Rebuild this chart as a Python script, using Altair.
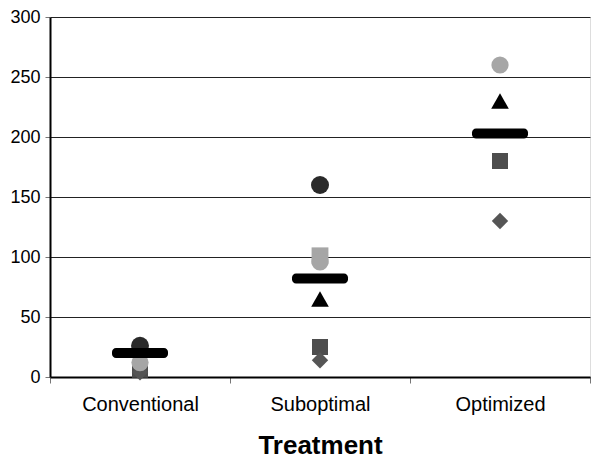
import altair as alt
import pandas as pd

groups = ["Conventional", "Suboptimal", "Optimized"]

series = ["dark square", "diamond", "light square", "light circle", "triangle", "dark circle"]
dark_square = [6, 25, 180]
diamond = [4, 14, 130]
light_square = [None, 101, None]
light_circle = [12, 96, 260]
triangle = [None, 65, 230]
dark_circle = [26, 160, None]
means = [20, 82, 203]

values = [dark_square, diamond, light_square, light_circle, triangle, dark_circle]
rows = []
for s, vals in zip(series, values):
    for g, v in zip(groups, vals):
        if v is not None:
            rows.append({"group": g, "series": s, "value": v})
pts = pd.DataFrame(rows)
mdf = pd.DataFrame({"group": groups, "mean": means})

FONT = "Liberation Sans"

xenc = alt.X(
    "group:N",
    sort=groups,
    scale=alt.Scale(type="band", paddingInner=0, paddingOuter=0),
    axis=alt.Axis(
        title="Treatment",
        titleFont=FONT,
        titleFontSize=26,
        titleFontWeight="bold",
        titleColor="black",
        titleBaseline="alphabetic",
        titleY=76,
        labelFont=FONT,
        labelFontSize=20,
        labelColor="black",
        labelBaseline="alphabetic",
        labelPadding=27,
        labelAngle=0,
        tickBand="extent",
        tickSize=6,
        tickColor="#777777",
        domainColor="black",
        domainWidth=2,
        grid=False,
    ),
)

yscale = alt.Scale(domain=[0, 300], nice=False)
yaxis = alt.Axis(
    title=None,
    values=[0, 50, 100, 150, 200, 250, 300],
    labelFont=FONT,
    labelFontSize=18,
    labelColor="black",
    labelPadding=5,
    tickSize=5,
    tickColor="#777777",
    domainColor="black",
    domainWidth=2,
    grid=True,
    gridColor="#222222",
    gridWidth=1,
)

points = alt.Chart(pts).mark_point(filled=True, opacity=1, strokeWidth=0).encode(
    x=xenc,
    y=alt.Y("value:Q", scale=yscale, axis=yaxis),
    shape=alt.Shape(
        "series:N",
        scale=alt.Scale(
            domain=series,
            range=["square", "diamond", "square", "circle", "triangle-up", "circle"],
        ),
        legend=None,
    ),
    color=alt.Color(
        "series:N",
        scale=alt.Scale(
            domain=series,
            range=["#4d4d4d", "#555555", "#a6a6a6", "#a6a6a6", "#000000", "#2a2a2a"],
        ),
        legend=None,
    ),
    size=alt.Size(
        "series:N",
        scale=alt.Scale(domain=series, range=[256, 324, 256, 256, 256, 256]),
        legend=None,
    ),
    order=alt.Order("ord:Q"),
).transform_calculate(
    ord="indexof(" + str(series) + ", datum.series)"
)

bars = alt.Chart(mdf).mark_tick(
    thickness=10, size=56, cornerRadius=4, color="black", opacity=1
).encode(
    x=alt.X("group:N", sort=groups),
    y=alt.Y("mean:Q", scale=yscale),
)

chart = (
    alt.layer(points, bars)
    .properties(
        width=540,
        height=360,
        autosize=alt.AutoSizeParams(type="none"),
        padding={"left": 42, "top": 9, "right": 2, "bottom": 81},
    )
    .configure_view(stroke="black", strokeWidth=1.5)
    .configure(background="white")
)

chart.save("out.html", embed_options={"renderer": "svg", "actions": False})
